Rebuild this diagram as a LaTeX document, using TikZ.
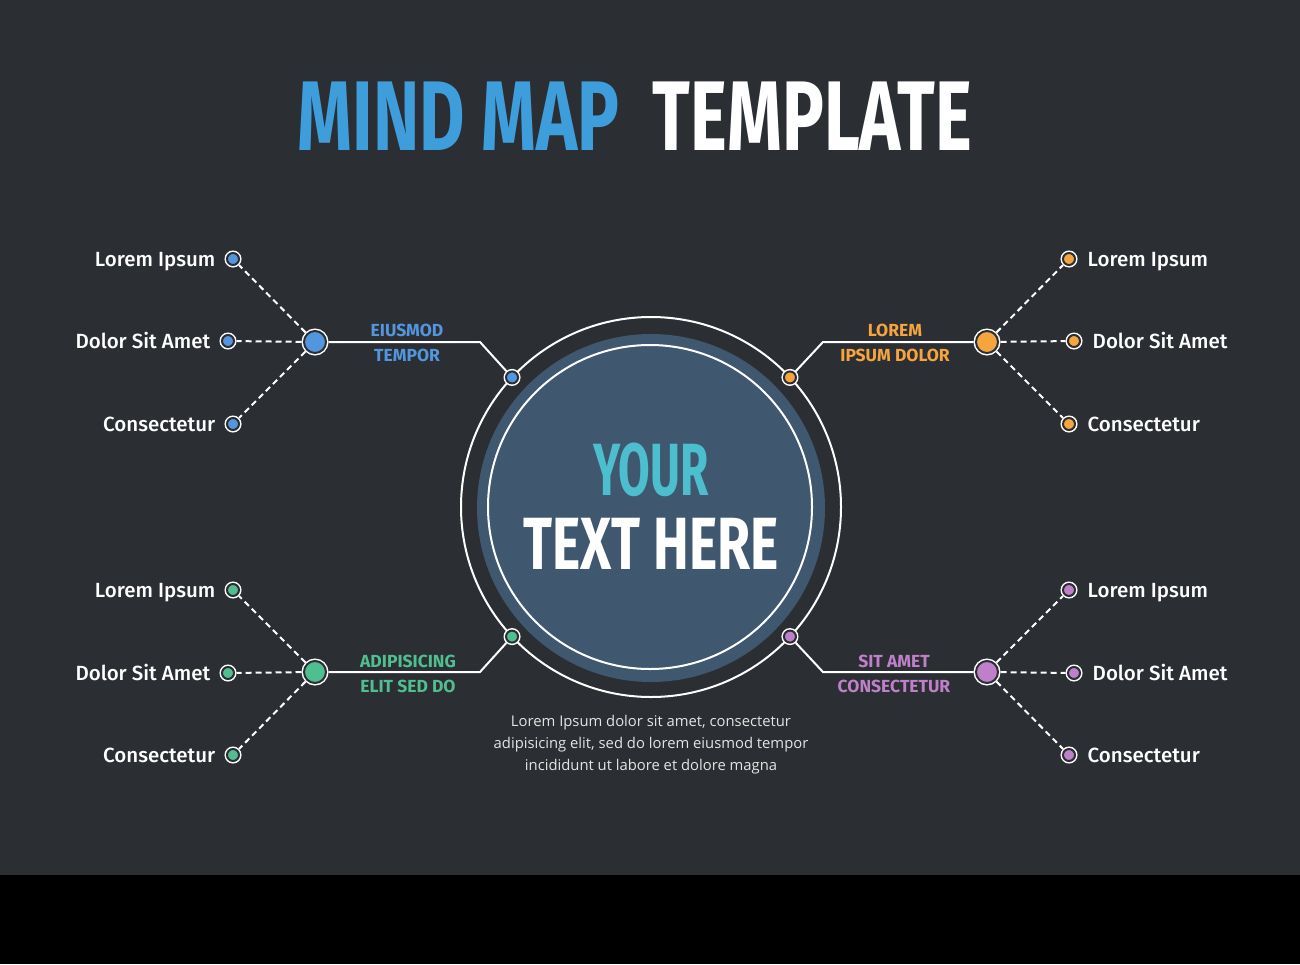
\documentclass[tikz,border=0pt]{standalone}
\usepackage{fontspec}
\setmainfont{Fira Sans}
\newfontfamily\leaffont{Fira Sans Medium}
\newfontfamily\boldfont{Fira Sans Bold}
\newfontfamily\titlefont{Fira Sans Bold}[FakeStretch=0.705]
\newfontfamily\yourfont{Fira Sans Bold}[FakeStretch=0.62]
\newfontfamily\herefont{Fira Sans Bold}[FakeStretch=0.725]
\newfontfamily\notefont{Open Sans}
\usetikzlibrary{positioning}

\definecolor{bgc}{RGB}{43,46,51}
\definecolor{bandc}{RGB}{0,0,0}
\definecolor{diskc}{RGB}{64,87,112}
\definecolor{titleblue}{RGB}{62,158,220}
\definecolor{yourc}{RGB}{76,190,205}
\definecolor{mapblue}{RGB}{82,150,222}
\definecolor{maporange}{RGB}{246,165,62}
\definecolor{mapgreen}{RGB}{80,190,142}
\definecolor{mappurple}{RGB}{190,128,200}
\definecolor{notec}{RGB}{228,228,228}

\tikzset{
  hubdot/.style={circle, fill=#1, draw=bgc, line width=2pt, minimum size=22pt, inner sep=0pt, outer sep=2.5pt, preaction={draw=white, line width=5pt}},
  leafdot/.style={circle, fill=#1, draw=bgc, line width=2pt, minimum size=12pt, inner sep=0pt, outer sep=2.5pt, preaction={draw=white, line width=5pt}},
  leaftext/.style={font=\leaffont\fontsize{20.5}{20.5}\selectfont, text=white, inner sep=0pt, text height=14pt, text depth=0pt},
  branchtext/.style={font=\boldfont\fontsize{17.5}{17.5}\selectfont, inner sep=0pt},
  titletext/.style={font=\titlefont\fontsize{99}{99}\selectfont, inner sep=0pt},
  link/.style={draw=white, line width=2pt},
  twig/.style={draw=white, line width=2pt, dash pattern=on 6pt off 4pt}
}

\begin{document}
\begin{tikzpicture}[x=1pt, y=-1pt]

\useasboundingbox (0,0) rectangle (1300,964);
\fill[bgc] (0,0) rectangle (1300,875);
\fill[bandc] (0,875) rectangle (1300,964);

\node[titletext, text=titleblue] (ttl1) at (458.5,116) {MIND MAP};
\node[titletext, text=white] (ttl2) at (812.5,116) {TEMPLATE};

\node[circle, draw=white, line width=2pt, minimum size=380pt, inner sep=0pt, outer sep=0pt] (ring) at (651,507) {};
\node[circle, fill=diskc, minimum size=348pt, inner sep=0pt] (disk) at (651,508) {};
\node[circle, draw=white, line width=2pt, minimum size=324pt, inner sep=0pt] (inner) at (650,507) {};

\node[font=\yourfont\fontsize{74}{74}\selectfont, text=yourc, inner sep=0pt] (your) at (651,470) {YOUR};
\node[font=\herefont\fontsize{74}{74}\selectfont, text=white, inner sep=0pt] (here) at (651,544) {TEXT HERE};

\node[leafdot=mapblue] (p1) at (ring.137) {};
\node[leafdot=maporange] (p2) at (ring.43) {};
\node[leafdot=mapgreen] (p3) at (ring.223) {};
\node[leafdot=mappurple] (p4) at (ring.317) {};

\coordinate (c1) at (480,342);
\coordinate (c2) at (823,342);
\coordinate (c3) at (480,672);
\coordinate (c4) at (823,672);

\node[hubdot=mapblue] (h1) at (315,342) {};
\node[hubdot=maporange] (h2) at (987,342) {};
\node[hubdot=mapgreen] (h3) at (315,672) {};
\node[hubdot=mappurple] (h4) at (987,672) {};

\draw[link] (p1) -- (c1) -- (h1);
\draw[link] (p2) -- (c2) -- (h2);
\draw[link] (p3) -- (c3) -- (h3);
\draw[link] (p4) -- (c4) -- (h4);

\node[branchtext, text=mapblue] (b1a) at (407,330) {EIUSMOD};
\node[branchtext, text=mapblue] (b1b) at (407,355) {TEMPOR};
\node[branchtext, text=maporange] (b2a) at (895,330) {LOREM};
\node[branchtext, text=maporange] (b2b) at (895,355) {IPSUM DOLOR};
\node[branchtext, text=mapgreen] (b3a) at (408,661) {ADIPISICING};
\node[branchtext, text=mapgreen] (b3b) at (408,686) {ELIT SED DO};
\node[branchtext, text=mappurple] (b4a) at (894,661) {SIT AMET};
\node[branchtext, text=mappurple] (b4b) at (894,686) {CONSECTETUR};

\node[leafdot=mapblue] (l11) at (233,259) {};
\node[leafdot=mapblue] (l12) at (228,341) {};
\node[leafdot=mapblue] (l13) at (233,424) {};
\node[leafdot=maporange] (l21) at (1069,259) {};
\node[leafdot=maporange] (l22) at (1074,341) {};
\node[leafdot=maporange] (l23) at (1069,424) {};
\node[leafdot=mapgreen] (l31) at (233,590) {};
\node[leafdot=mapgreen] (l32) at (228,673) {};
\node[leafdot=mapgreen] (l33) at (233,755) {};
\node[leafdot=mappurple] (l41) at (1069,590) {};
\node[leafdot=mappurple] (l42) at (1074,673) {};
\node[leafdot=mappurple] (l43) at (1069,755) {};

\draw[twig] (h1) -- (l11);
\draw[twig] (h1) -- (l12);
\draw[twig] (h1) -- (l13);
\draw[twig] (h2) -- (l21);
\draw[twig] (h2) -- (l22);
\draw[twig] (h2) -- (l23);
\draw[twig] (h3) -- (l31);
\draw[twig] (h3) -- (l32);
\draw[twig] (h3) -- (l33);
\draw[twig] (h4) -- (l41);
\draw[twig] (h4) -- (l42);
\draw[twig] (h4) -- (l43);

\node[leaftext, left=9pt of l11] (t11) {Lorem Ipsum};
\node[leaftext, left=9pt of l12] (t12) {Dolor Sit Amet};
\node[leaftext, left=9pt of l13] (t13) {Consectetur};
\node[leaftext, right=10pt of l21] (t21) {Lorem Ipsum};
\node[leaftext, right=10pt of l22] (t22) {Dolor Sit Amet};
\node[leaftext, right=10pt of l23] (t23) {Consectetur};
\node[leaftext, left=9pt of l31] (t31) {Lorem Ipsum};
\node[leaftext, left=9pt of l32] (t32) {Dolor Sit Amet};
\node[leaftext, left=9pt of l33] (t33) {Consectetur};
\node[leaftext, right=10pt of l41] (t41) {Lorem Ipsum};
\node[leaftext, right=10pt of l42] (t42) {Dolor Sit Amet};
\node[leaftext, right=10pt of l43] (t43) {Consectetur};

\node[font=\notefont\fontsize{14.8}{22}\selectfont, text=notec, align=center, inner sep=0pt] (note) at (651,745) {Lorem Ipsum dolor sit amet, consectetur\\adipisicing elit, sed do lorem eiusmod tempor\\incididunt ut labore et dolore magna};

\end{tikzpicture}
\end{document}
